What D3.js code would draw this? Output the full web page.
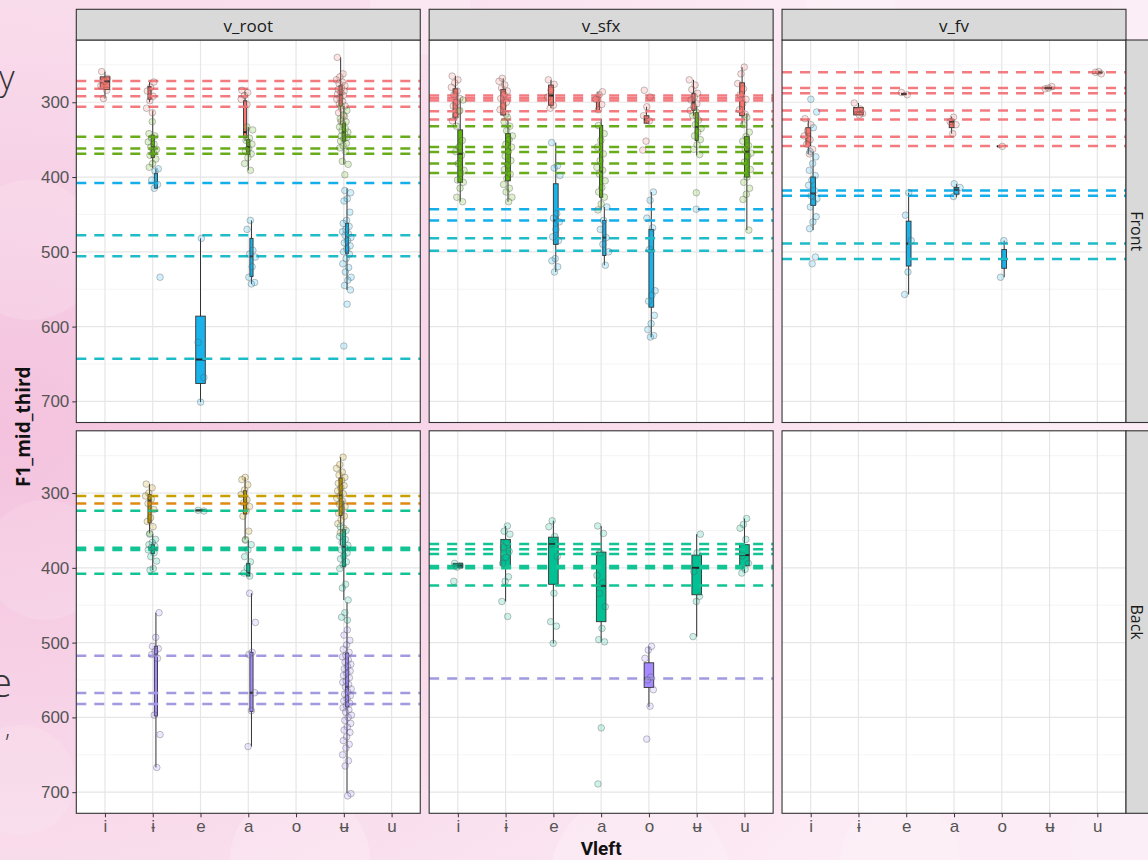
<!DOCTYPE html>
<html>
<head>
<meta charset="utf-8">
<script src="https://cdn.jsdelivr.net/npm/d3@7"></script>
<style>
body { margin: 0; }
svg { display: block; font-family: "Open Sans", "Noto Sans", "DejaVu Sans", sans-serif; }
</style>
</head>
<body>
<svg id="chart" width="1148" height="860"></svg>
<script>
// categories
var vowels = ["i", "ɨ", "e", "a", "o", "ʉ", "u"];
var facets = ["v_root", "v_sfx", "v_fv"];
var rows = ["Front", "Back"];
var yTicks = [300, 400, 500, 600, 700];
var yMinor = [250, 350, 450, 550, 650];
var groupOrder = ["red", "green", "blue", "gold", "teal", "purple"];

var fillColors = {red: "#F8766D", green: "#5DB40F", blue: "#1AB2EA", gold: "#C49A00", teal: "#00C094", purple: "#A58AFF"};
var lineColors = {red: "#F37B80", green: "#68AC1C", blue: "#14AEEA", cyan: "#1EBBC9",
                  gold: "#C8A000", orange: "#E08A12", teal: "#12C393", purple: "#A19AE0"};

// reference lines: facet, row, value, colour
var hlines = [
  ["v_root", "Front", 271.5, "red"], ["v_root", "Front", 282, "red"], ["v_root", "Front", 292, "red"], ["v_root", "Front", 306, "red"],
  ["v_root", "Front", 346, "green"], ["v_root", "Front", 362, "green"], ["v_root", "Front", 369, "green"],
  ["v_root", "Front", 408, "blue"],
  ["v_root", "Front", 478, "cyan"], ["v_root", "Front", 506, "cyan"], ["v_root", "Front", 643, "cyan"],
  ["v_sfx", "Front", 291, "red"], ["v_sfx", "Front", 294.5, "red"], ["v_sfx", "Front", 297.5, "red"],
  ["v_sfx", "Front", 312, "red"], ["v_sfx", "Front", 323, "red"],
  ["v_sfx", "Front", 332, "green"], ["v_sfx", "Front", 360, "green"], ["v_sfx", "Front", 366.5, "green"],
  ["v_sfx", "Front", 382, "green"], ["v_sfx", "Front", 394.5, "green"],
  ["v_sfx", "Front", 443, "blue"], ["v_sfx", "Front", 458, "blue"],
  ["v_sfx", "Front", 482, "cyan"], ["v_sfx", "Front", 498.5, "cyan"],
  ["v_fv", "Front", 260, "red"], ["v_fv", "Front", 281, "red"], ["v_fv", "Front", 288, "red"], ["v_fv", "Front", 311, "red"],
  ["v_fv", "Front", 323, "red"], ["v_fv", "Front", 346, "red"], ["v_fv", "Front", 358.5, "red"],
  ["v_fv", "Front", 418, "blue"], ["v_fv", "Front", 425, "blue"],
  ["v_fv", "Front", 489, "cyan"], ["v_fv", "Front", 509.6, "cyan"],
  ["v_root", "Back", 304, "gold"], ["v_root", "Back", 314, "orange"],
  ["v_root", "Back", 323.5, "teal"], ["v_root", "Back", 373, "teal"], ["v_root", "Back", 376, "teal"], ["v_root", "Back", 408, "teal"],
  ["v_root", "Back", 517.6, "purple"], ["v_root", "Back", 567.5, "purple"], ["v_root", "Back", 582, "purple"],
  ["v_sfx", "Back", 368, "teal"], ["v_sfx", "Back", 375, "teal"], ["v_sfx", "Back", 381.6, "teal"],
  ["v_sfx", "Back", 397.5, "teal"], ["v_sfx", "Back", 400.5, "teal"], ["v_sfx", "Back", 423.6, "teal"],
  ["v_sfx", "Back", 548, "purple"]
];

// box stats: facet, row, vowel, group, lower whisker, q1, median, q3, upper whisker
var boxes = [
  ["v_root", "Front", "i", "red", 259, 266, 272, 283, 295],
  ["v_root", "Front", "ɨ", "red", 272, 279, 281, 296, 300],
  ["v_root", "Front", "ɨ", "green", 311, 344, 360, 374, 388],
  ["v_root", "Front", "ɨ", "blue", 389, 395, 408, 415, 415],
  ["v_root", "Front", "e", "blue", 482, 586, 644, 676, 701],
  ["v_root", "Front", "a", "red", 286, 298, 340, 346, 352],
  ["v_root", "Front", "a", "green", 333, 350, 360, 370, 391],
  ["v_root", "Front", "a", "blue", 458, 482, 506, 533, 543],
  ["v_root", "Front", "ʉ", "red", 240, 278, 290, 305, 330],
  ["v_root", "Front", "ʉ", "green", 305, 328, 340, 352, 383],
  ["v_root", "Front", "ʉ", "blue", 415, 462, 478, 502, 551],
  ["v_sfx", "Front", "i", "red", 265, 282, 297, 320, 330],
  ["v_sfx", "Front", "i", "green", 295, 337, 369, 407, 433],
  ["v_sfx", "Front", "ɨ", "red", 268, 283, 297, 317, 318],
  ["v_sfx", "Front", "ɨ", "green", 324, 342, 382, 405, 433],
  ["v_sfx", "Front", "e", "red", 270, 277, 291, 304, 308],
  ["v_sfx", "Front", "e", "blue", 354, 409, 458, 490, 527],
  ["v_sfx", "Front", "a", "red", 286, 291, 297, 311, 311],
  ["v_sfx", "Front", "a", "green", 322, 331, 393, 427, 444],
  ["v_sfx", "Front", "a", "blue", 440, 458, 481, 505, 518],
  ["v_sfx", "Front", "o", "red", 306, 318, 323, 328, 328],
  ["v_sfx", "Front", "o", "blue", 420, 470, 498, 574, 614],
  ["v_sfx", "Front", "ʉ", "red", 270, 288, 300, 311, 318],
  ["v_sfx", "Front", "ʉ", "green", 305, 314, 333, 351, 371],
  ["v_sfx", "Front", "ʉ", "blue", 443, 443, 443, 443, 443],
  ["v_sfx", "Front", "u", "red", 253, 274, 293, 318, 330],
  ["v_sfx", "Front", "u", "green", 315, 346, 366, 400, 471],
  ["v_fv", "Front", "i", "red", 322, 334, 346, 358, 369],
  ["v_fv", "Front", "i", "blue", 366, 400, 422, 438, 471],
  ["v_fv", "Front", "ɨ", "red", 301, 307, 312, 317, 317],
  ["v_fv", "Front", "e", "red", 287, 288, 289, 290, 290],
  ["v_fv", "Front", "e", "blue", 421, 459, 489, 519, 557],
  ["v_fv", "Front", "a", "red", 319, 323, 326, 334, 342],
  ["v_fv", "Front", "a", "blue", 409, 414, 417, 423, 427],
  ["v_fv", "Front", "o", "red", 358, 358.5, 359, 359, 359],
  ["v_fv", "Front", "o", "blue", 485, 497, 510, 522, 534],
  ["v_fv", "Front", "ʉ", "red", 279, 280, 281, 282, 282],
  ["v_fv", "Front", "u", "red", 259, 260, 260, 261, 262],
  ["v_root", "Back", "ɨ", "gold", 288, 302, 310, 340, 354],
  ["v_root", "Back", "ɨ", "teal", 355, 369, 375, 381, 403],
  ["v_root", "Back", "ɨ", "purple", 460, 505, 516, 598, 667],
  ["v_root", "Back", "e", "teal", 323, 323, 323, 324, 324],
  ["v_root", "Back", "a", "gold", 279, 297, 313, 328, 362],
  ["v_root", "Back", "a", "teal", 363, 394, 407, 411, 411],
  ["v_root", "Back", "a", "purple", 434, 513, 567, 592, 639],
  ["v_root", "Back", "ʉ", "gold", 252, 280, 303, 330, 370],
  ["v_root", "Back", "ʉ", "teal", 310, 349, 372, 398, 443],
  ["v_root", "Back", "ʉ", "purple", 446, 514, 559, 586, 701],
  ["v_sfx", "Back", "i", "teal", 394, 394, 397, 400, 400],
  ["v_sfx", "Back", "ɨ", "teal", 344, 362, 375, 397, 445],
  ["v_sfx", "Back", "e", "teal", 337, 359, 368, 422, 501],
  ["v_sfx", "Back", "a", "teal", 344, 379, 424, 472, 499],
  ["v_sfx", "Back", "o", "purple", 505, 527, 548, 560, 586],
  ["v_sfx", "Back", "ʉ", "teal", 355, 383, 400, 436, 492],
  ["v_sfx", "Back", "u", "teal", 334, 369, 383, 397, 407]
];

// observations: facet, row, vowel, group, F1 values
var points = [
  ["v_root", "Front", "i", "red", [259, 268, 272, 278, 284, 295]],
  ["v_root", "Front", "ɨ", "red", [273, 280, 285, 292, 298, 308, 314]],
  ["v_root", "Front", "ɨ", "green", [326, 342, 345, 348, 353, 356, 360, 363, 367, 371, 376, 382, 387]],
  ["v_root", "Front", "ɨ", "blue", [389, 392, 404, 410, 415, 534]],
  ["v_root", "Front", "e", "blue", [482, 621, 668, 701]],
  ["v_root", "Front", "a", "red", [284, 287, 291, 296, 303]],
  ["v_root", "Front", "a", "green", [333, 337, 348, 351, 356, 362, 365, 369, 374, 382, 391]],
  ["v_root", "Front", "a", "blue", [458, 470, 498, 503, 507, 520, 534, 541, 543]],
  ["v_root", "Front", "ʉ", "red", [240, 262, 266, 270, 273, 275, 278, 281, 283, 285, 287, 289, 291, 294, 296, 299, 302, 305, 309, 314, 319, 326]],
  ["v_root", "Front", "ʉ", "green", [305, 311, 317, 322, 326, 329, 333, 335, 338, 340, 342, 345, 347, 349, 352, 355, 358, 361, 366, 379, 383, 397]],
  ["v_root", "Front", "ʉ", "blue", [418, 421, 429, 432, 447, 458, 462, 466, 470, 473, 476, 478, 481, 485, 488, 492, 496, 500, 503, 509, 516, 521, 527, 534, 538, 545, 551, 570, 626]],
  ["v_sfx", "Front", "i", "red", [265, 270, 274, 280, 285, 290, 295, 300, 305, 312, 318, 325]],
  ["v_sfx", "Front", "i", "green", [297, 311, 332, 351, 360, 366, 371, 382, 391, 395, 404, 407, 415, 427, 433]],
  ["v_sfx", "Front", "ɨ", "red", [268, 272, 277, 281, 285, 290, 295, 300, 305, 310, 316]],
  ["v_sfx", "Front", "ɨ", "green", [320, 326, 332, 338, 345, 350, 356, 360, 366, 372, 378, 384, 390, 396, 402, 410, 415, 420, 427, 433]],
  ["v_sfx", "Front", "e", "red", [270, 276, 284, 293, 304, 308]],
  ["v_sfx", "Front", "e", "blue", [354, 385, 388, 398, 449, 455, 460, 470, 480, 485, 509, 512, 520, 527]],
  ["v_sfx", "Front", "a", "red", [286, 290, 296, 303, 310]],
  ["v_sfx", "Front", "a", "green", [331, 342, 351, 360, 369, 378, 387, 391, 396, 405, 414, 420, 427, 436, 444]],
  ["v_sfx", "Front", "a", "blue", [440, 458, 470, 481, 490, 500, 518]],
  ["v_sfx", "Front", "o", "red", [284, 293, 306, 318, 325, 352, 364]],
  ["v_sfx", "Front", "o", "blue", [420, 431, 455, 468, 497, 552, 558, 566, 585, 596, 604, 612, 614]],
  ["v_sfx", "Front", "ʉ", "red", [270, 277, 283, 288, 293, 297, 302, 306, 311, 318]],
  ["v_sfx", "Front", "ʉ", "green", [313, 318, 324, 330, 335, 340, 345, 350, 357, 363, 370, 421]],
  ["v_sfx", "Front", "ʉ", "blue", [443]],
  ["v_sfx", "Front", "u", "red", [253, 262, 275, 282, 290, 296, 302, 310, 316]],
  ["v_sfx", "Front", "u", "green", [320, 330, 340, 346, 352, 358, 363, 368, 372, 380, 390, 400, 407, 415, 423, 430, 471]],
  ["v_fv", "Front", "i", "red", [322, 330, 338, 345, 350, 356, 363, 369]],
  ["v_fv", "Front", "i", "blue", [296, 313, 334, 366, 373, 382, 391, 398, 404, 411, 418, 425, 429, 434, 440, 453, 460, 469, 507, 516]],
  ["v_fv", "Front", "ɨ", "red", [301, 309, 312, 315, 317]],
  ["v_fv", "Front", "e", "red", [287, 290]],
  ["v_fv", "Front", "e", "blue", [421, 451, 485, 527, 557]],
  ["v_fv", "Front", "a", "red", [320, 326, 330, 342]],
  ["v_fv", "Front", "a", "blue", [409, 414, 420, 426]],
  ["v_fv", "Front", "o", "red", [359]],
  ["v_fv", "Front", "o", "blue", [485, 534]],
  ["v_fv", "Front", "ʉ", "red", [279, 281, 282]],
  ["v_fv", "Front", "u", "red", [259, 260, 262]],
  ["v_root", "Back", "ɨ", "gold", [288, 293, 300, 304, 308, 314, 322, 333, 338, 345, 354]],
  ["v_root", "Back", "ɨ", "teal", [355, 362, 366, 369, 371, 373, 376, 380, 385, 391, 401, 403]],
  ["v_root", "Back", "ɨ", "purple", [460, 493, 505, 508, 512, 516, 521, 597, 623, 667]],
  ["v_root", "Back", "e", "teal", [323, 324]],
  ["v_root", "Back", "a", "gold", [279, 282, 289, 296, 302, 309, 313, 318, 324, 331, 351, 362]],
  ["v_root", "Back", "a", "teal", [363, 369, 376, 385, 392, 400, 407, 411]],
  ["v_root", "Back", "a", "purple", [434, 473, 513, 516, 567, 591, 639]],
  ["v_root", "Back", "ʉ", "gold", [252, 262, 267, 272, 276, 279, 283, 287, 290, 293, 297, 301, 304, 307, 311, 315, 318, 322, 327, 331, 336, 341, 347, 353]],
  ["v_root", "Back", "ʉ", "teal", [345, 350, 355, 358, 362, 366, 370, 373, 376, 380, 384, 388, 392, 396, 401, 422, 427, 443, 460, 466, 470]],
  ["v_root", "Back", "ʉ", "purple", [483, 490, 497, 503, 509, 513, 517, 519, 523, 526, 529, 532, 535, 538, 541, 544, 547, 551, 553, 556, 559, 562, 566, 569, 571, 575, 578, 581, 584, 587, 590, 593, 597, 600, 604, 608, 613, 617, 620, 626, 631, 636, 641, 650, 658, 665, 702, 705]],
  ["v_sfx", "Back", "i", "teal", [394, 397, 399, 418]],
  ["v_sfx", "Back", "ɨ", "teal", [344, 351, 355, 366, 372, 378, 386, 394, 412, 418, 445, 465]],
  ["v_sfx", "Back", "e", "teal", [337, 345, 358, 368, 385, 434, 472, 478, 501]],
  ["v_sfx", "Back", "a", "teal", [344, 354, 380, 410, 420, 434, 452, 481, 496, 499, 614, 689]],
  ["v_sfx", "Back", "o", "purple", [505, 510, 521, 546, 550, 563, 585, 629]],
  ["v_sfx", "Back", "ʉ", "teal", [355, 380, 405, 438, 445, 492]],
  ["v_sfx", "Back", "u", "teal", [334, 342, 347, 362, 384, 394, 402, 407]]
];

var svg = d3.select("#chart");

// slide background behind the plot
var bg = svg.append("g");
var grad = svg.append("defs").append("radialGradient").attr("id", "pinkbg")
  .attr("cx", "0%").attr("cy", "50%").attr("r", "90%");
grad.append("stop").attr("offset", "0%").attr("stop-color", "#f4c2de");
grad.append("stop").attr("offset", "55%").attr("stop-color", "#f9dcec");
grad.append("stop").attr("offset", "100%").attr("stop-color", "#fcecf5");
bg.append("rect").attr("width", 1148).attr("height", 860).attr("fill", "url(#pinkbg)");
[[30, 250, 70, 0.15], [45, 560, 60, 0.12], [20, 780, 55, 0.12], [300, 860, 70, 0.2], [640, 880, 90, 0.2],
 [900, 860, 60, 0.18], [1120, 840, 50, 0.15], [420, 5, 50, 0.2], [850, 0, 45, 0.2], [1148, 20, 40, 0.15]]
  .forEach(function(c){
    bg.append("circle").attr("cx", c[0]).attr("cy", c[1]).attr("r", c[2])
      .attr("fill", "#ffffff").attr("opacity", c[3]);
  });
bg.append("text").attr("x", -1).attr("y", 90).attr("font-size", 34).attr("font-weight", 300)
  .attr("fill", "#333").text("y");
bg.append("text").attr("x", -10).attr("y", 697).attr("font-size", 40).attr("font-weight", 300)
  .attr("fill", "#333").text("e");
bg.append("text").attr("x", 5).attr("y", 737).attr("font-size", 24).attr("font-weight", 300)
  .attr("fill", "#333").text(",");

var plotLeft = 76.3, plotRight = 1126, plotTop = 40, plotBottom = 813.3;
var gapX = 8.9, gapY = 8.3, stripH = 30.7;
var panelW = (plotRight - plotLeft - 2 * gapX) / 3;
var panelH = (plotBottom - plotTop - gapY) / 2;

var allVals = [];
points.forEach(function(p){ allVals = allVals.concat(p[4]); });
var ext = d3.extent(allVals);
var pad = (ext[1] - ext[0]) * 0.05;

var x = d3.scalePoint().domain(vowels).range([0, panelW]).padding(0.6);
var y = d3.scaleLinear().domain([ext[0] - pad, ext[1] + pad]).range([0, panelH]);

var boxTotal = x.step() * 0.2;

// which groups share each vowel slot, for dodging
var slotGroups = {};
boxes.forEach(function(b){
  var k = b[0] + "|" + b[1] + "|" + b[2];
  if(!slotGroups[k]) slotGroups[k] = [];
  slotGroups[k].push(b[3]);
});
Object.keys(slotGroups).forEach(function(k){
  slotGroups[k].sort(function(a, b){ return groupOrder.indexOf(a) - groupOrder.indexOf(b); });
});
function dodge(f, r, v, g){
  var list = slotGroups[f + "|" + r + "|" + v];
  var n = list.length, w = boxTotal / n;
  return {cx: x(v) - boxTotal / 2 + (list.indexOf(g) + 0.5) * w, w: w};
}

function jitter(i){
  return ((i * 7919 + 13) % 97) / 96 - 0.5;
}

facets.forEach(function(f, ci){
  rows.forEach(function(r, ri){
    var px = plotLeft + ci * (panelW + gapX);
    var py = plotTop + ri * (panelH + gapY);
    var g = svg.append("g").attr("transform", "translate(" + px + "," + py + ")");

    g.append("rect").attr("width", panelW).attr("height", panelH).attr("fill", "#fff");

    g.selectAll(".minor").data(yMinor).enter().append("line")
      .attr("x1", 0).attr("x2", panelW)
      .attr("y1", function(d){ return y(d); }).attr("y2", function(d){ return y(d); })
      .attr("stroke", "#f2f2f2").attr("stroke-width", 0.8);
    g.selectAll(".majory").data(yTicks).enter().append("line")
      .attr("x1", 0).attr("x2", panelW)
      .attr("y1", function(d){ return y(d); }).attr("y2", function(d){ return y(d); })
      .attr("stroke", "#e6e6e6").attr("stroke-width", 1.2);
    g.selectAll(".majorx").data(vowels).enter().append("line")
      .attr("y1", 0).attr("y2", panelH)
      .attr("x1", function(d){ return x(d); }).attr("x2", function(d){ return x(d); })
      .attr("stroke", "#e6e6e6").attr("stroke-width", 1.2);

    var pb = boxes.filter(function(b){ return b[0] === f && b[1] === r; });
    pb.forEach(function(b){
      var d = dodge(f, r, b[2], b[3]);
      g.append("line").attr("x1", d.cx).attr("x2", d.cx)
        .attr("y1", y(b[4])).attr("y2", y(b[8]))
        .attr("stroke", "#333").attr("stroke-width", 1);
      g.append("rect").attr("x", d.cx - d.w / 2).attr("width", d.w)
        .attr("y", y(b[5])).attr("height", Math.max(0.01, y(b[7]) - y(b[5])))
        .attr("fill", fillColors[b[3]]).attr("stroke", "#333").attr("stroke-width", 0.9);
      g.append("line").attr("x1", d.cx - d.w / 2).attr("x2", d.cx + d.w / 2)
        .attr("y1", y(b[6])).attr("y2", y(b[6]))
        .attr("stroke", "#222").attr("stroke-width", 2);
    });

    var ph = hlines.filter(function(h){ return h[0] === f && h[1] === r; });
    g.selectAll(".hline").data(ph).enter().append("line")
      .attr("x1", 0).attr("x2", panelW)
      .attr("y1", function(h){ return y(h[2]); }).attr("y2", function(h){ return y(h[2]); })
      .attr("stroke", function(h){ return lineColors[h[3]]; })
      .attr("stroke-width", 2.5).attr("stroke-dasharray", "10 8");

    var pp = points.filter(function(p){ return p[0] === f && p[1] === r; });
    var k = 0;
    pp.forEach(function(p){
      var d = dodge(f, r, p[2], p[3]);
      p[4].forEach(function(v){
        g.append("circle").attr("cx", d.cx + jitter(k++) * 9).attr("cy", y(v)).attr("r", 3.3)
          .attr("fill", fillColors[p[3]]).attr("fill-opacity", 0.2)
          .attr("stroke", "#555").attr("stroke-opacity", 0.4).attr("stroke-width", 0.9);
      });
    });

    g.append("rect").attr("width", panelW).attr("height", panelH)
      .attr("fill", "none").attr("stroke", "#333").attr("stroke-width", 1.1);

    if(ri === 0){
      var sg = svg.append("g").attr("transform", "translate(" + px + "," + (py - stripH) + ")");
      sg.append("rect").attr("width", panelW).attr("height", stripH)
        .attr("fill", "#d9d9d9").attr("stroke", "#333").attr("stroke-width", 1.1);
      sg.append("text").attr("x", panelW / 2).attr("y", 23).attr("text-anchor", "middle")
        .attr("font-size", 17).attr("fill", "#1a1a1a").text(f);
    }
    if(ci === facets.length - 1){
      var rg = svg.append("g").attr("transform", "translate(" + (px + panelW) + "," + py + ")");
      rg.append("rect").attr("width", stripH).attr("height", panelH)
        .attr("fill", "#d9d9d9").attr("stroke", "#333").attr("stroke-width", 1.1);
      rg.append("text").attr("transform", "translate(4.5," + (panelH / 2) + ") rotate(90)")
        .attr("text-anchor", "middle").attr("font-size", 16).attr("fill", "#1a1a1a").text(r);
    }
    if(ci === 0){
      var ya = g.append("g").call(d3.axisLeft(y).tickValues(yTicks).tickSize(4).tickPadding(3));
      ya.select(".domain").remove();
      ya.selectAll("line").attr("stroke", "#333");
      ya.selectAll("text").attr("font-size", 17).attr("fill", "#555").attr("font-family", null);
    }
    if(ri === rows.length - 1){
      var xa = g.append("g").attr("transform", "translate(0," + panelH + ")")
        .call(d3.axisBottom(x).tickSize(4).tickPadding(3));
      xa.select(".domain").remove();
      xa.selectAll("line").attr("stroke", "#333");
      xa.selectAll("text").attr("font-size", 17).attr("fill", "#555").attr("font-family", null);
    }
  });
});

svg.append("text").attr("transform", "translate(29.5," + ((plotTop + plotBottom) / 2) + ") rotate(-90)")
  .attr("text-anchor", "middle").attr("font-size", 19).attr("font-weight", "bold")
  .attr("fill", "#111").text("F1_mid_third");
svg.append("text").attr("x", (plotLeft + plotRight) / 2).attr("y", 855.2)
  .attr("text-anchor", "middle").attr("font-size", 19).attr("font-weight", "bold")
  .attr("font-family", "Roboto, 'Open Sans', sans-serif")
  .attr("fill", "#111").text("Vleft");
</script>
</body>
</html>
